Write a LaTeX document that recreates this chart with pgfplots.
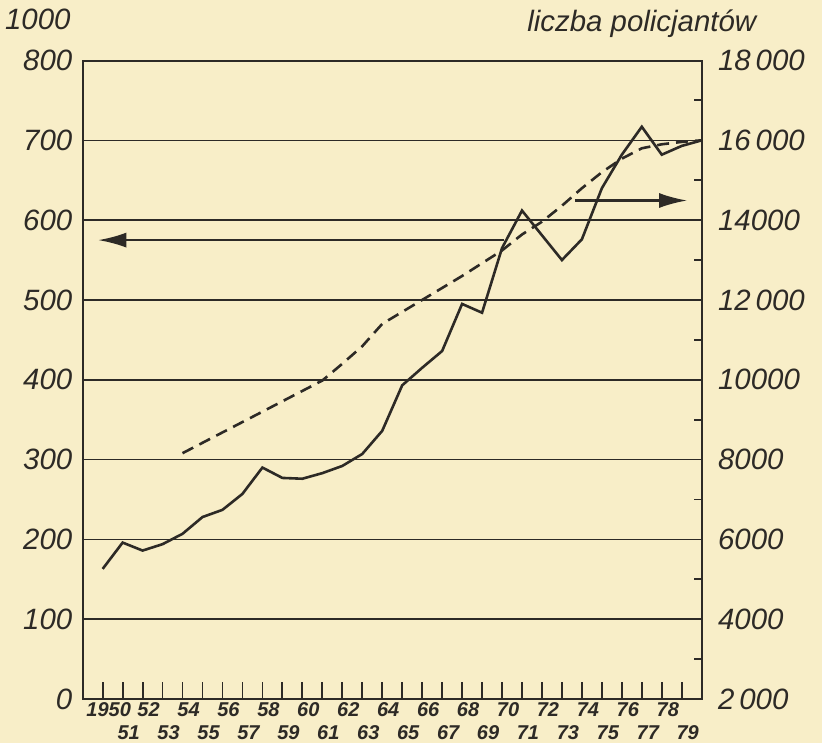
\documentclass[border=0pt]{standalone}
\usepackage{fontspec}
\setmainfont{Liberation Sans}
\usepackage{pgfplots}
\pgfplotsset{compat=1.18}
\usetikzlibrary{arrows.meta}
\definecolor{paper}{RGB}{248,238,200}
\definecolor{ink}{RGB}{45,42,38}
\newcommand{\lab}{\fontsize{14.7}{16}\selectfont\itshape}
\newcommand{\yr}{\fontsize{10}{11}\selectfont\bfseries\itshape}

\begin{document}
\begin{tikzpicture}[x=1pt,y=1pt]
\fill[paper] (-41.35,-22) rectangle (369.65,349.5);
% left scale: solid line
\begin{axis}[
    at={(0,0)}, anchor=south west,
    scale only axis, width=309.5pt, height=319.25pt,
    xmin=1949, xmax=1980, ymin=0, ymax=800,
    clip=false,
    axis line style={ink, line width=1pt},
    ytick={0,100,...,800},
    yticklabels={0,100,200,300,400,500,600,700,800},
    yticklabel style={font=\lab, text=ink, anchor=east, inner sep=0pt, xshift=-5pt},
    ytick style={draw=none},
    ymajorgrids,
    grid style={ink, line width=0.75pt},
    xtick pos=left,
    xtick align=inside,
    major tick length=8.3pt,
    xtick style={ink, line width=0.9pt},
    xtick={1950,1952,...,1978},
    xticklabels={1950,52,54,56,58,60,62,64,66,68,70,72,74,76,78},
    extra x ticks={1951,1953,...,1979},
    extra x tick labels={51,53,55,57,59,61,63,65,67,69,71,73,75,77,79},
    extra x tick style={tick label style={yshift=-11.5pt}},
    xticklabel style={font=\yr, text=ink, anchor=north, inner sep=0pt, yshift=-1.5pt, xshift=3pt},
]
\addplot[ink, line width=1.3pt] coordinates {
    (1950,163) (1951,196) (1952,186) (1953,194) (1954,207)
    (1955,228) (1956,237) (1957,257) (1958,290) (1959,277)
    (1960,276) (1961,283) (1962,292) (1963,307) (1964,336)
    (1965,393) (1966,415) (1967,436) (1968,495) (1969,484)
    (1970,565) (1971,612) (1972,581) (1973,550) (1974,576)
    (1975,640) (1976,682) (1977,717) (1978,682) (1979,693)
    (1980,700)
};
\draw[ink, line width=1.1pt, -{Latex[length=14pt,width=7.5pt]}]
    (axis cs:1970.1,575) -- (axis cs:1949.78,575);
\draw[ink, line width=1.1pt, -{Latex[length=14pt,width=7.5pt]}]
    (axis cs:1973.65,624.6) -- (axis cs:1979.27,624.6);
\node[font=\lab, text=ink] at (axis cs:1946.75,852) {1000};
\node[font=\lab, text=ink] at (axis cs:1977,846) {liczba policjantów};
\end{axis}
% right scale: dashed line
\begin{axis}[
    at={(0,0)}, anchor=south west,
    scale only axis, width=309.5pt, height=319.25pt,
    xmin=1949, xmax=1980, ymin=2000, ymax=18000,
    axis x line=none, axis y line*=right,
    axis line style={ink, line width=1pt},
    scaled y ticks=false,
    ytick={2000,4000,...,18000},
    yticklabels={2\,000,4000,6000,8000,10000,12\,000,14000,16\,000,18\,000},
    minor ytick={3000,5000,...,17000},
    ytick align=inside,
    major tick length=0pt, minor tick length=4pt,
    minor tick style={ink, line width=0.9pt},
    yticklabel style={font=\lab, text=ink, anchor=west, inner sep=0pt, xshift=8pt},
]
\addplot[ink, line width=1.3pt, dash pattern=on 6pt off 3.5pt] coordinates {
    (1954,8160) (1955,8420) (1956,8680) (1957,8940) (1958,9200)
    (1959,9460) (1960,9720) (1961,9980) (1962,10400) (1963,10840)
    (1964,11400) (1965,11700) (1966,12000) (1967,12300) (1968,12600)
    (1969,12920) (1970,13240) (1971,13640) (1972,13960) (1973,14360)
    (1974,14800) (1975,15200) (1976,15540) (1977,15800) (1978,15900)
    (1979,15960) (1980,16000)
};
\end{axis}
\pgfresetboundingbox
\path[use as bounding box] (-41.35,-22) rectangle (369.65,349.5);
\end{tikzpicture}
\end{document}
